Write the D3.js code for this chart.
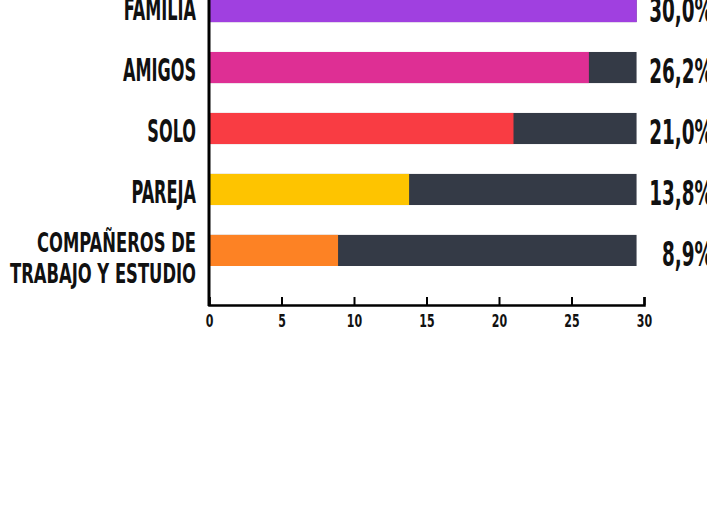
<!DOCTYPE html>
<html>
<head>
<meta charset="utf-8">
<script src="https://cdn.jsdelivr.net/npm/d3@7"></script>
<style>
	html, body { margin:0; padding:0; background:#ffffff; overflow:hidden; }
	text { font-family: "DejaVu Sans Condensed", "DejaVu Sans", sans-serif; font-weight:bold; fill:#111; }
</style>
</head>
<body>
<svg id="chart" width="707" height="523"></svg>
<script>
// data
const categories = ["FAMILIA", "AMIGOS", "SOLO", "PAREJA", "COMPAÑEROS DE\nTRABAJO Y ESTUDIO"]
const values     = [30.0, 26.2, 21.0, 13.8, 8.9]
const labels     = ["30,0%", "26,2%", "21,0%", "13,8%", "8,9%"]
const colors     = ["#A040E0", "#DE2F94", "#F93C43", "#FEC400", "#FD8224"]
const trackMax   = 29.5
const xTicks     = [0, 5, 10, 15, 20, 25, 30]

const svg = d3.select("#chart")

const xScale = d3.scaleLinear().domain([0, 30]).range([209, 644])
const yScale = d3.scaleBand().domain(categories).range([-49, 306])
	.paddingInner(0.49).paddingOuter(0.656)

// clip bars to the track
svg.append("clipPath").attr("id", "trackClip")
	.append("rect")
	.attr("x", xScale(0)).attr("y", -60)
	.attr("width", xScale(trackMax) - xScale(0)).attr("height", 400)

const bars = svg.append("g").attr("clip-path", "url(#trackClip)")

// background tracks
bars.selectAll("rect.track")
	.data(categories)
	.join("rect")
	.attr("class", "track")
	.attr("x", xScale(0))
	.attr("y", d => yScale(d))
	.attr("width", xScale(trackMax) - xScale(0))
	.attr("height", yScale.bandwidth())
	.attr("fill", "#343A46")

// value bars
bars.selectAll("rect.bar")
	.data(values)
	.join("rect")
	.attr("class", "bar")
	.attr("x", xScale(0))
	.attr("y", (d, i) => yScale(categories[i]))
	.attr("width", d => xScale(d) - xScale(0))
	.attr("height", yScale.bandwidth())
	.attr("fill", (d, i) => colors[i])

// category labels
const catG = svg.append("g")
categories.forEach((c, i) => {
	const lines = c.split("\n")
	const cy = yScale(c) + yScale.bandwidth() / 2
	if (lines.length == 1){
		catG.append("text")
			.attr("transform", "translate(196," + (cy + 13.5) + ") scale(0.56,1)")
			.attr("text-anchor", "end")
			.style("font-size", "32px")
			.text(lines[0])
	} else {
		lines.forEach((ln, j) => {
			catG.append("text")
				.attr("transform", "translate(196," + (cy + 2 + j * 31) + ") scale(0.675,1)")
				.attr("text-anchor", "end")
				.style("font-size", "27px")
				.text(ln)
		})
	}
})

// value labels
svg.append("g").selectAll("text")
	.data(labels)
	.join("text")
	.attr("transform", (d, i) => "translate(713," + (yScale(categories[i]) + yScale.bandwidth() / 2 + 15.5) + ") scale(0.62,1)")
	.attr("text-anchor", "end")
	.style("font-size", "33px")
	.text(d => d)

// x axis
const xAxis = d3.axisBottom(xScale).tickValues(xTicks).tickSize(-8).tickPadding(9)
const xAxisGroup = svg.append("g")
	.attr("transform", "translate(0,305)")
	.call(xAxis)
xAxisGroup.selectAll("path").attr("stroke", "#000").style("stroke-width", 2.5)
xAxisGroup.selectAll("line").attr("stroke", "#000").style("stroke-width", 2)
xAxisGroup.selectAll("text")
	.attr("fill", "#111")
	.style("font-size", "18px")
	.style("font-family", "'DejaVu Sans Condensed', sans-serif")
	.style("font-weight", "bold")
	.attr("transform", "scale(0.68,1)")

// y axis line
svg.append("line")
	.attr("x1", xScale(0)).attr("x2", xScale(0))
	.attr("y1", 0).attr("y2", 306)
	.attr("stroke", "#000")
	.style("stroke-width", 3)
</script>
</body>
</html>
